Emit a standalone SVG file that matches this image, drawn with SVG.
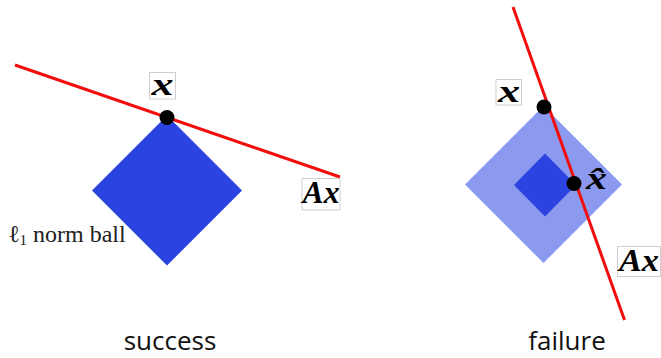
<svg xmlns="http://www.w3.org/2000/svg" width="661" height="358" viewBox="0 0 661 358">
<style>
.ball{fill:#2b43e1}
.ballL{fill:#8b9aef}
.line{stroke:#f20d0d;stroke-width:3;fill:none;stroke-linecap:butt}
.dot{fill:#000}
.box{fill:#fff;stroke:#cfcfcf;stroke-width:1}
.math{font-family:"Liberation Serif",serif;font-style:italic;font-weight:bold;fill:#000;font-size:32px}
.lbl{font-family:"Liberation Serif",serif;font-size:24px;fill:#222}
.cap{font-family:"Open Sans",sans-serif;font-size:26px;fill:#111;text-anchor:middle}
</style>
<g id="success-ball"><polygon class="ball" points="167,115.5 242,190.5 167,265.5 92,190.5"/></g>
<g id="failure-ball-outer"><polygon class="ballL" points="543.5,106 622,184.5 543.5,263 465,184.5"/></g>
<g id="failure-ball-inner"><polygon class="ball" points="545,153.5 576,185 545,216.5 514,185"/></g>
<g id="connectors">
<line class="line" x1="15" y1="65" x2="340" y2="177"/>
<line class="line" x1="513" y1="7" x2="624.5" y2="320"/>
</g>
<g id="success-x">
<circle class="dot" cx="167" cy="117.5" r="7.5"/>
<rect class="box" x="149.5" y="72.5" width="26" height="26.5"/>
<text class="math" x="151.5" y="95" textLength="22" lengthAdjust="spacingAndGlyphs">x</text>
</g>
<g id="success-Ax">
<rect class="box" x="302" y="178.5" width="38" height="31.5"/>
<text class="math" x="302.5" y="203" textLength="37" lengthAdjust="spacingAndGlyphs">Ax</text>
</g>
<g id="label-ball"><text class="lbl" x="8" y="242">ℓ<tspan font-size="15" dy="3">1</tspan><tspan dy="-3"> norm ball</tspan></text></g>
<g id="failure-x">
<circle class="dot" cx="544" cy="107" r="7.5"/>
<rect class="box" x="496" y="79.5" width="25.5" height="25.5"/>
<text class="math" x="498" y="101.5" textLength="22" lengthAdjust="spacingAndGlyphs">x</text>
</g>
<g id="failure-xhat">
<circle class="dot" cx="574" cy="183.5" r="7.5"/>
<text class="math" x="586" y="189" textLength="21" lengthAdjust="spacingAndGlyphs">x̂</text>
</g>
<g id="failure-Ax">
<rect class="box" x="617.5" y="246.5" width="43" height="30"/>
<text class="math" x="619" y="271" textLength="40" lengthAdjust="spacingAndGlyphs">Ax</text>
</g>
<text class="cap" x="170" y="350">success</text>
<text class="cap" x="567" y="350">failure</text>
</svg>
